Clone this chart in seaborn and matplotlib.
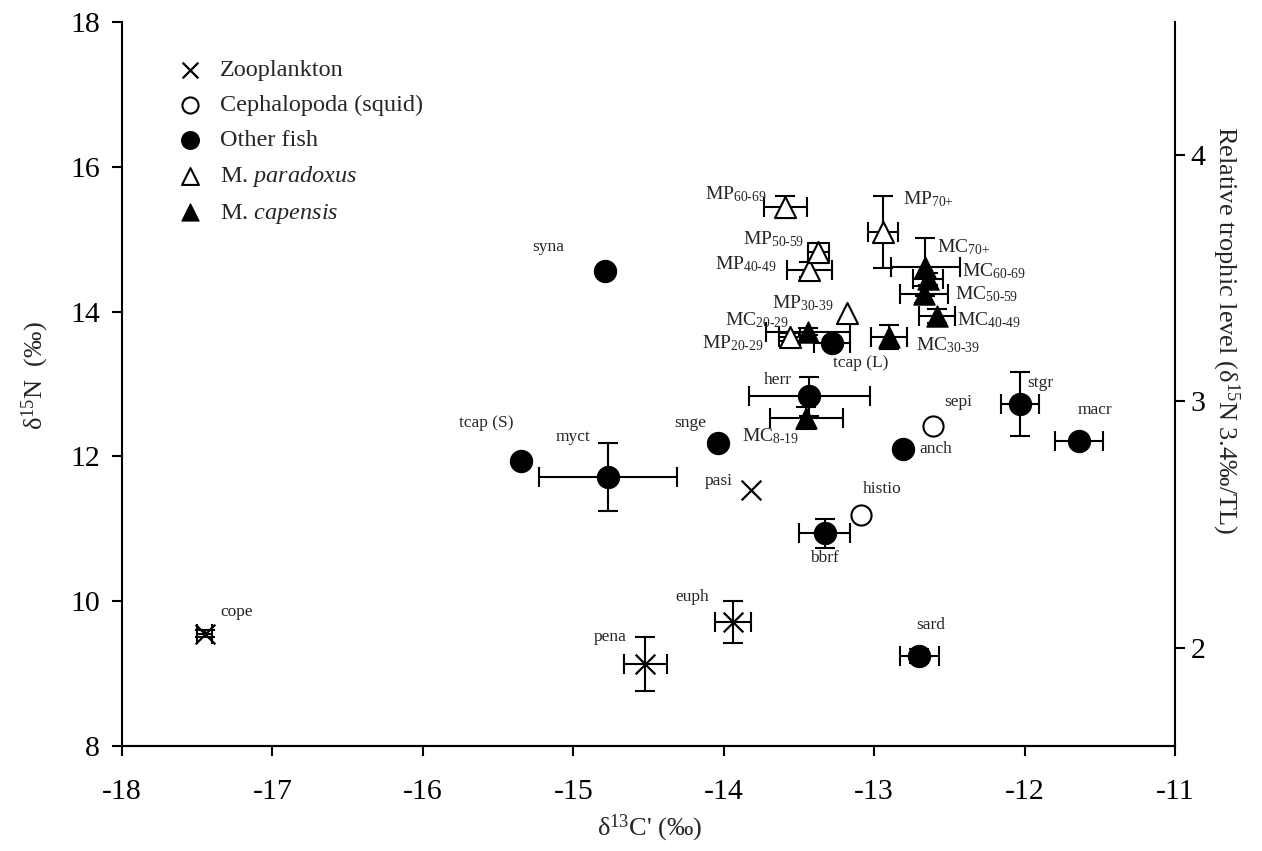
import matplotlib
matplotlib.use("Agg")
import matplotlib.pyplot as plt
import seaborn as sns

# ---- data: delta13C (x), delta15N (y), SD on each axis ----
zoo_names = ["cope", "pena", "euph", "pasi"]
zoo_x = [-17.45, -14.52, -13.94, -13.82]
zoo_y = [9.55, 9.13, 9.71, 11.53]
zoo_xerr = [0.05, 0.14, 0.12, 0.0]
zoo_yerr = [0.05, 0.37, 0.29, 0.0]

squid_names = ["sepi", "histio"]
squid_x = [-12.61, -13.09]
squid_y = [12.42, 11.19]

fish_names = ["syna", "tcap (S)", "myct", "snge", "herr", "tcap (L)",
              "anch", "bbrf", "stgr", "macr", "sard"]
fish_x = [-14.79, -15.35, -14.77, -14.04, -13.43, -13.28,
          -12.81, -13.33, -12.03, -11.64, -12.70]
fish_y = [14.56, 11.94, 11.72, 12.19, 12.83, 13.56,
          12.10, 10.94, 12.72, 12.21, 9.24]
fish_xerr = [0.0, 0.0, 0.46, 0.0, 0.40, 0.12, 0.0, 0.17, 0.125, 0.16, 0.13]
fish_yerr = [0.0, 0.0, 0.47, 0.0, 0.27, 0.0, 0.0, 0.20, 0.44, 0.0, 0.10]

mp_names = ["20-29", "30-39", "40-49", "50-59", "60-69", "70+"]
mp_x = [-13.56, -13.18, -13.43, -13.37, -13.59, -12.94]
mp_y = [13.65, 13.98, 14.58, 14.83, 15.44, 15.10]
mp_xerr = [0.07, 0.0, 0.15, 0.07, 0.145, 0.10]
mp_yerr = [0.05, 0.0, 0.10, 0.12, 0.15, 0.50]

mc_names = ["8-19", "20-29", "30-39", "40-49", "50-59", "60-69", "70+"]
mc_x = [-13.45, -13.44, -12.90, -12.58, -12.67, -12.64, -12.66]
mc_y = [12.53, 13.72, 13.65, 13.94, 14.24, 14.45, 14.61]
mc_xerr = [0.24, 0.28, 0.12, 0.12, 0.16, 0.10, 0.23]
mc_yerr = [0.15, 0.05, 0.17, 0.10, 0.12, 0.08, 0.40]

# trophic level scale: 3.4 per mil per level, TL 2 at this delta15N
tl_step = 3.4
tl2_n = 9.36

# label offsets in pixels (dx, dy, horizontal alignment)
label_offsets = {
    "cope": (32, 22, "center"), "pena": (-35, 27, "center"),
    "euph": (-40, 25, "center"), "pasi": (-32, 9, "center"),
    "sepi": (25, 24, "center"), "histio": (22, 26, "center"),
    "syna": (-57, 24, "center"), "tcap (S)": (-34, 38, "center"),
    "myct": (-35, 40, "center"), "snge": (-27, 20, "center"),
    "herr": (-32, 16, "center"), "tcap (L)": (29, -20, "center"),
    "anch": (33, 0, "center"), "bbrf": (0, -25, "center"),
    "stgr": (20, 21, "center"), "macr": (16, 31, "center"),
    "sard": (11, 31, "center"),
    "MP20-29": (-26, -6, "right"), "MP30-39": (-13, 10, "right"),
    "MP40-49": (-33, 5, "right"), "MP50-59": (-15, 12, "right"),
    "MP60-69": (-19, 13, "right"), "MP70+": (20, 33, "left"),
    "MC8-19": (-64, -18, "left"), "MC20-29": (-19, 12, "right"),
    "MC30-39": (27, -8, "left"), "MC40-49": (20, -4, "left"),
    "MC50-59": (31, 0, "left"), "MC60-69": (34, 8, "left"),
    "MC70+": (12, 20, "left"),
}

sns.set_theme(style="white")
plt.rcParams["font.family"] = ["Liberation Serif", "DejaVu Serif"]
plt.rcParams["mathtext.fontset"] = "custom"
plt.rcParams["mathtext.rm"] = "Liberation Serif"
plt.rcParams["mathtext.it"] = "Liberation Serif:italic"
plt.rcParams["mathtext.bf"] = "Liberation Serif:bold"
plt.rcParams["axes.unicode_minus"] = False

W, H = 1262, 851
fig = plt.figure(figsize=(W / 100, H / 100), dpi=100)
ax = fig.add_axes([122 / W, 1 - 746 / H, 1053 / W, 724 / H])

ebkw = dict(fmt="none", ecolor="black", elinewidth=1.5, capsize=7,
            capthick=1.5, zorder=2)


def draw_errors(xs, ys, xerrs, yerrs):
    # only draw bars (and caps) where an SD exists
    for x, y, xe, ye in zip(xs, ys, xerrs, yerrs):
        if xe > 0:
            ax.errorbar([x], [y], xerr=[xe], **ebkw)
        if ye > 0:
            ax.errorbar([x], [y], yerr=[ye], **ebkw)


draw_errors(zoo_x, zoo_y, zoo_xerr, zoo_yerr)
draw_errors(fish_x, fish_y, fish_xerr, fish_yerr)
draw_errors(mp_x, mp_y, mp_xerr, mp_yerr)
draw_errors(mc_x, mc_y, mc_xerr, mc_yerr)

sns.scatterplot(x=zoo_x, y=zoo_y, marker="x", s=200, color="black",
                linewidth=1.6, ax=ax, zorder=3, label="Zooplankton")
sns.scatterplot(x=squid_x, y=squid_y, marker="o", s=210, color="white",
                edgecolor="black", linewidth=1.5, ax=ax, zorder=3,
                label="Cephalopoda (squid)")
sns.scatterplot(x=fish_x, y=fish_y, marker="o", s=250, color="black",
                edgecolor="black", linewidth=1, ax=ax, zorder=3,
                label="Other fish")
sns.scatterplot(x=mp_x, y=mp_y, marker="^", s=230, color="white",
                edgecolor="black", linewidth=1.5, ax=ax, zorder=3,
                label="M. $\\mathit{paradoxus}$")
sns.scatterplot(x=mc_x, y=mc_y, marker="^", s=230, color="black",
                edgecolor="black", linewidth=1, ax=ax, zorder=3,
                label="M. $\\mathit{capensis}$")


def put_label(key, text, x, y, size):
    dx, dy, ha = label_offsets[key]
    ax.annotate(text, (x, y), xytext=(dx, dy), textcoords="offset pixels",
                ha=ha, va="center", fontsize=size, zorder=4)


for n, x, y in zip(zoo_names, zoo_x, zoo_y):
    put_label(n, n, x, y, 12.5)
for n, x, y in zip(squid_names, squid_x, squid_y):
    put_label(n, n, x, y, 12.5)
for n, x, y in zip(fish_names, fish_x, fish_y):
    put_label(n, n, x, y, 12.5)
for n, x, y in zip(mp_names, mp_x, mp_y):
    put_label("MP" + n, "MP$_{\\text{" + n + "}}$", x, y, 14)
for n, x, y in zip(mc_names, mc_x, mc_y):
    put_label("MC" + n, "MC$_{\\text{" + n + "}}$", x, y, 14)

ax.set_xlim(-18, -11)
ax.set_ylim(8, 18)
ax.set_xticks(range(-18, -10))
ax.set_yticks([8, 10, 12, 14, 16, 18])

# secondary axis: relative trophic level
ax2 = ax.twinx()
ax2.set_ylim(2 + (8 - tl2_n) / tl_step, 2 + (18 - tl2_n) / tl_step)
ax2.set_yticks([2, 3, 4])

# axis titles
fig.text(650 / W, 1 - 828 / H, "δ$^{\\mathregular{13}}$C' (‰)",
         fontsize=19, ha="center", va="center")
fig.text(35 / W, 1 - 376 / H, "δ$^{\\mathregular{15}}$N  (‰)",
         fontsize=19, ha="center", va="center", rotation=90)
fig.text(1226 / W, 1 - 330 / H,
         "Relative trophic level (δ$^{\\mathregular{15}}$N 3.4‰/TL)",
         fontsize=19, ha="center", va="center", rotation=270)

for a in (ax, ax2):
    a.spines["top"].set_visible(False)
    for s in ("left", "right", "bottom"):
        a.spines[s].set_linewidth(1.5)
        a.spines[s].set_color("black")
    a.tick_params(direction="out", length=7, width=1.5, labelsize=21.5,
                  colors="black")
ax.tick_params(axis="x", pad=17)
ax.tick_params(axis="y", pad=9)
ax2.tick_params(axis="y", pad=4, left=False, right=True)
ax.spines["right"].set_visible(False)
ax2.spines["left"].set_visible(False)
ax.tick_params(left=True, bottom=True)

handles, labels = ax.get_legend_handles_labels()
leg = ax.legend(handles, labels, loc="upper left",
                bbox_to_anchor=(0.032, 0.962), frameon=False, fontsize=17.5,
                handletextpad=0.25, labelspacing=0.53, markerscale=0.8,
                borderaxespad=0)

fig.savefig("out.png", dpi=100)
